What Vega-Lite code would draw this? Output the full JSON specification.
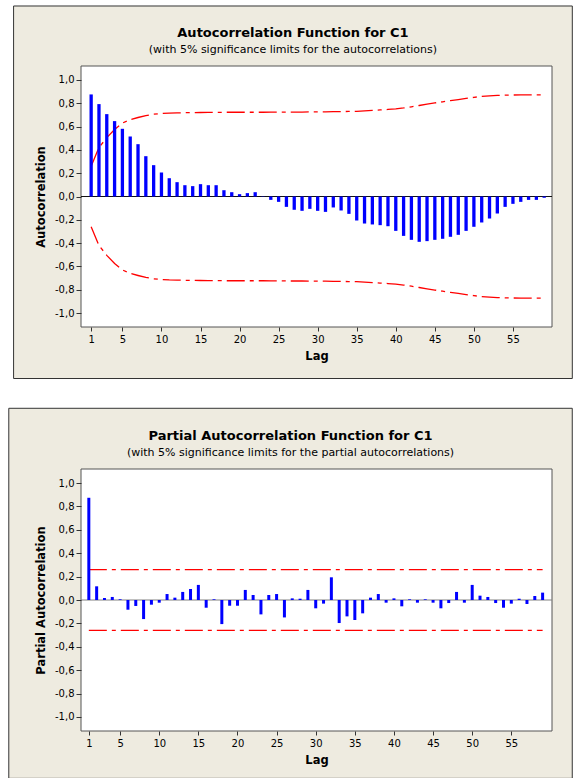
{
  "$schema": "https://vega.github.io/schema/vega-lite/v6.json",
  "background": "white",
  "padding": {"left": 8, "top": 5, "right": 0, "bottom": 0},
  "spacing": 27,
  "config": {
    "font": "DejaVu Sans",
    "view": {"stroke": null},
    "axis": {
      "labelFont": "DejaVu Sans", "labelFontSize": 10, "labelColor": "#000", "labelOverlap": false,
      "titleFont": "DejaVu Sans", "titleFontSize": 11.5, "titleFontWeight": "bold", "titleColor": "#000",
      "tickColor": "#333", "grid": false, "domain": false
    },
    "axisX": {"tickSize": 4, "labelPadding": 3, "titlePadding": 6},
    "axisY": {"tickSize": 5, "labelPadding": 2, "titlePadding": 8},
    "title": {
      "font": "DejaVu Sans", "fontSize": 13, "fontWeight": "bold", "color": "#000",
      "subtitleFont": "DejaVu Sans", "subtitleFontSize": 11, "subtitleColor": "#000",
      "anchor": "middle", "frame": "bounds", "offset": -50, "subtitlePadding": 4, "zindex": 1
    }
  },
  "datasets": {
    "acf": [
      {"lag": 1, "acf": 0.876, "upper": 0.26, "lower": -0.26},
      {"lag": 2, "acf": 0.793, "upper": 0.42, "lower": -0.42},
      {"lag": 3, "acf": 0.707, "upper": 0.505, "lower": -0.505},
      {"lag": 4, "acf": 0.647, "upper": 0.575, "lower": -0.575},
      {"lag": 5, "acf": 0.581, "upper": 0.63, "lower": -0.63},
      {"lag": 6, "acf": 0.515, "upper": 0.66, "lower": -0.66},
      {"lag": 7, "acf": 0.449, "upper": 0.678, "lower": -0.678},
      {"lag": 8, "acf": 0.346, "upper": 0.695, "lower": -0.695},
      {"lag": 9, "acf": 0.269, "upper": 0.706, "lower": -0.706},
      {"lag": 10, "acf": 0.206, "upper": 0.712, "lower": -0.712},
      {"lag": 11, "acf": 0.157, "upper": 0.716, "lower": -0.716},
      {"lag": 12, "acf": 0.123, "upper": 0.718, "lower": -0.718},
      {"lag": 13, "acf": 0.097, "upper": 0.719, "lower": -0.719},
      {"lag": 14, "acf": 0.089, "upper": 0.72, "lower": -0.72},
      {"lag": 15, "acf": 0.106, "upper": 0.721, "lower": -0.721},
      {"lag": 16, "acf": 0.097, "upper": 0.722, "lower": -0.722},
      {"lag": 17, "acf": 0.097, "upper": 0.722, "lower": -0.722},
      {"lag": 18, "acf": 0.054, "upper": 0.723, "lower": -0.723},
      {"lag": 19, "acf": 0.037, "upper": 0.723, "lower": -0.723},
      {"lag": 20, "acf": 0.02, "upper": 0.723, "lower": -0.723},
      {"lag": 21, "acf": 0.029, "upper": 0.723, "lower": -0.723},
      {"lag": 22, "acf": 0.037, "upper": 0.723, "lower": -0.723},
      {"lag": 23, "acf": 0.003, "upper": 0.723, "lower": -0.723},
      {"lag": 24, "acf": -0.029, "upper": 0.724, "lower": -0.724},
      {"lag": 25, "acf": -0.046, "upper": 0.724, "lower": -0.724},
      {"lag": 26, "acf": -0.089, "upper": 0.725, "lower": -0.725},
      {"lag": 27, "acf": -0.114, "upper": 0.725, "lower": -0.725},
      {"lag": 28, "acf": -0.123, "upper": 0.725, "lower": -0.725},
      {"lag": 29, "acf": -0.106, "upper": 0.726, "lower": -0.726},
      {"lag": 30, "acf": -0.123, "upper": 0.726, "lower": -0.726},
      {"lag": 31, "acf": -0.132, "upper": 0.727, "lower": -0.727},
      {"lag": 32, "acf": -0.094, "upper": 0.728, "lower": -0.728},
      {"lag": 33, "acf": -0.12, "upper": 0.729, "lower": -0.729},
      {"lag": 34, "acf": -0.149, "upper": 0.73, "lower": -0.73},
      {"lag": 35, "acf": -0.206, "upper": 0.731, "lower": -0.731},
      {"lag": 36, "acf": -0.232, "upper": 0.735, "lower": -0.735},
      {"lag": 37, "acf": -0.24, "upper": 0.739, "lower": -0.739},
      {"lag": 38, "acf": -0.246, "upper": 0.743, "lower": -0.743},
      {"lag": 39, "acf": -0.255, "upper": 0.747, "lower": -0.747},
      {"lag": 40, "acf": -0.295, "upper": 0.752, "lower": -0.752},
      {"lag": 41, "acf": -0.338, "upper": 0.76, "lower": -0.76},
      {"lag": 42, "acf": -0.372, "upper": 0.77, "lower": -0.77},
      {"lag": 43, "acf": -0.389, "upper": 0.781, "lower": -0.781},
      {"lag": 44, "acf": -0.383, "upper": 0.792, "lower": -0.792},
      {"lag": 45, "acf": -0.372, "upper": 0.803, "lower": -0.803},
      {"lag": 46, "acf": -0.363, "upper": 0.813, "lower": -0.813},
      {"lag": 47, "acf": -0.346, "upper": 0.823, "lower": -0.823},
      {"lag": 48, "acf": -0.329, "upper": 0.832, "lower": -0.832},
      {"lag": 49, "acf": -0.295, "upper": 0.842, "lower": -0.842},
      {"lag": 50, "acf": -0.26, "upper": 0.851, "lower": -0.851},
      {"lag": 51, "acf": -0.223, "upper": 0.859, "lower": -0.859},
      {"lag": 52, "acf": -0.189, "upper": 0.864, "lower": -0.864},
      {"lag": 53, "acf": -0.146, "upper": 0.868, "lower": -0.868},
      {"lag": 54, "acf": -0.089, "upper": 0.87, "lower": -0.87},
      {"lag": 55, "acf": -0.063, "upper": 0.871, "lower": -0.871},
      {"lag": 56, "acf": -0.046, "upper": 0.872, "lower": -0.872},
      {"lag": 57, "acf": -0.029, "upper": 0.872, "lower": -0.872},
      {"lag": 58, "acf": -0.029, "upper": 0.872, "lower": -0.872},
      {"lag": 59, "acf": -0.011, "upper": 0.872, "lower": -0.872}
    ],
    "pacf": [
      {"lag": 1, "pacf": 0.874, "upper": 0.26, "lower": -0.26},
      {"lag": 2, "pacf": 0.117, "upper": 0.26, "lower": -0.26},
      {"lag": 3, "pacf": 0.017, "upper": 0.26, "lower": -0.26},
      {"lag": 4, "pacf": 0.026, "upper": 0.26, "lower": -0.26},
      {"lag": 5, "pacf": 0.006, "upper": 0.26, "lower": -0.26},
      {"lag": 6, "pacf": -0.083, "upper": 0.26, "lower": -0.26},
      {"lag": 7, "pacf": -0.051, "upper": 0.26, "lower": -0.26},
      {"lag": 8, "pacf": -0.163, "upper": 0.26, "lower": -0.26},
      {"lag": 9, "pacf": -0.04, "upper": 0.26, "lower": -0.26},
      {"lag": 10, "pacf": -0.023, "upper": 0.26, "lower": -0.26},
      {"lag": 11, "pacf": 0.051, "upper": 0.26, "lower": -0.26},
      {"lag": 12, "pacf": 0.02, "upper": 0.26, "lower": -0.26},
      {"lag": 13, "pacf": 0.069, "upper": 0.26, "lower": -0.26},
      {"lag": 14, "pacf": 0.094, "upper": 0.26, "lower": -0.26},
      {"lag": 15, "pacf": 0.129, "upper": 0.26, "lower": -0.26},
      {"lag": 16, "pacf": -0.066, "upper": 0.26, "lower": -0.26},
      {"lag": 17, "pacf": 0.006, "upper": 0.26, "lower": -0.26},
      {"lag": 18, "pacf": -0.206, "upper": 0.26, "lower": -0.26},
      {"lag": 19, "pacf": -0.049, "upper": 0.26, "lower": -0.26},
      {"lag": 20, "pacf": -0.049, "upper": 0.26, "lower": -0.26},
      {"lag": 21, "pacf": 0.086, "upper": 0.26, "lower": -0.26},
      {"lag": 22, "pacf": 0.043, "upper": 0.26, "lower": -0.26},
      {"lag": 23, "pacf": -0.123, "upper": 0.26, "lower": -0.26},
      {"lag": 24, "pacf": 0.043, "upper": 0.26, "lower": -0.26},
      {"lag": 25, "pacf": 0.051, "upper": 0.26, "lower": -0.26},
      {"lag": 26, "pacf": -0.149, "upper": 0.26, "lower": -0.26},
      {"lag": 27, "pacf": 0.014, "upper": 0.26, "lower": -0.26},
      {"lag": 28, "pacf": 0.011, "upper": 0.26, "lower": -0.26},
      {"lag": 29, "pacf": 0.086, "upper": 0.26, "lower": -0.26},
      {"lag": 30, "pacf": -0.071, "upper": 0.26, "lower": -0.26},
      {"lag": 31, "pacf": -0.031, "upper": 0.26, "lower": -0.26},
      {"lag": 32, "pacf": 0.194, "upper": 0.26, "lower": -0.26},
      {"lag": 33, "pacf": -0.197, "upper": 0.26, "lower": -0.26},
      {"lag": 34, "pacf": -0.14, "upper": 0.26, "lower": -0.26},
      {"lag": 35, "pacf": -0.171, "upper": 0.26, "lower": -0.26},
      {"lag": 36, "pacf": -0.114, "upper": 0.26, "lower": -0.26},
      {"lag": 37, "pacf": 0.02, "upper": 0.26, "lower": -0.26},
      {"lag": 38, "pacf": 0.051, "upper": 0.26, "lower": -0.26},
      {"lag": 39, "pacf": -0.023, "upper": 0.26, "lower": -0.26},
      {"lag": 40, "pacf": 0.014, "upper": 0.26, "lower": -0.26},
      {"lag": 41, "pacf": -0.054, "upper": 0.26, "lower": -0.26},
      {"lag": 42, "pacf": 0.006, "upper": 0.26, "lower": -0.26},
      {"lag": 43, "pacf": -0.023, "upper": 0.26, "lower": -0.26},
      {"lag": 44, "pacf": 0.006, "upper": 0.26, "lower": -0.26},
      {"lag": 45, "pacf": -0.023, "upper": 0.26, "lower": -0.26},
      {"lag": 46, "pacf": -0.071, "upper": 0.26, "lower": -0.26},
      {"lag": 47, "pacf": -0.026, "upper": 0.26, "lower": -0.26},
      {"lag": 48, "pacf": 0.069, "upper": 0.26, "lower": -0.26},
      {"lag": 49, "pacf": -0.023, "upper": 0.26, "lower": -0.26},
      {"lag": 50, "pacf": 0.129, "upper": 0.26, "lower": -0.26},
      {"lag": 51, "pacf": 0.037, "upper": 0.26, "lower": -0.26},
      {"lag": 52, "pacf": 0.026, "upper": 0.26, "lower": -0.26},
      {"lag": 53, "pacf": -0.026, "upper": 0.26, "lower": -0.26},
      {"lag": 54, "pacf": -0.066, "upper": 0.26, "lower": -0.26},
      {"lag": 55, "pacf": -0.031, "upper": 0.26, "lower": -0.26},
      {"lag": 56, "pacf": 0.011, "upper": 0.26, "lower": -0.26},
      {"lag": 57, "pacf": -0.034, "upper": 0.26, "lower": -0.26},
      {"lag": 58, "pacf": 0.034, "upper": 0.26, "lower": -0.26},
      {"lag": 59, "pacf": 0.063, "upper": 0.26, "lower": -0.26}
    ]
  },
  "vconcat": [
    {
      "width": 471,
      "height": 261,
      "title": {"text": "Autocorrelation Function for C1", "subtitle": "(with 5% significance limits for the autocorrelations)"},
      "layer": [
        {
          "data": {"values": [{"panel": "frame"}]},
          "mark": {"type": "rect", "fill": "#EEEBE0", "stroke": "#333", "strokeWidth": 1},
          "encoding": {
            "x": {"datum": -8.93, "type": "quantitative", "title": "Lag"},
            "x2": {"datum": 62.6},
            "y": {"datum": 1.635, "type": "quantitative", "title": "Autocorrelation"},
            "y2": {"datum": -1.562}
          }
        },
        {
          "data": {"values": [{"panel": "plot"}]},
          "mark": {"type": "rect", "fill": "white", "stroke": "#555", "strokeWidth": 1},
          "encoding": {
            "x": {"datum": -0.3, "type": "quantitative", "title": "Lag"},
            "x2": {"datum": 60},
            "y": {"datum": 1.12, "type": "quantitative", "title": "Autocorrelation"},
            "y2": {"datum": -1.12}
          }
        },
        {
          "data": {"values": [{"panel": "zero"}]},
          "mark": {"type": "rule", "color": "#111", "strokeWidth": 1},
          "encoding": {"y": {"datum": 0, "type": "quantitative", "title": "Autocorrelation"}}
        },
        {
          "data": {"name": "acf"},
          "mark": {"type": "line", "color": "#FF0000", "strokeWidth": 1.3, "strokeDash": [18, 5, 4, 5]},
          "encoding": {
            "x": {"field": "lag", "type": "quantitative", "title": "Lag"},
            "y": {"field": "upper", "type": "quantitative", "title": "Autocorrelation"}
          }
        },
        {
          "data": {"name": "acf"},
          "mark": {"type": "line", "color": "#FF0000", "strokeWidth": 1.3, "strokeDash": [18, 5, 4, 5]},
          "encoding": {
            "x": {"field": "lag", "type": "quantitative", "title": "Lag"},
            "y": {"field": "lower", "type": "quantitative", "title": "Autocorrelation"}
          }
        },
        {
          "data": {"name": "acf"},
          "mark": {"type": "rule", "color": "#0000FF", "strokeWidth": 3.3, "strokeCap": "butt"},
          "encoding": {
            "x": {
              "field": "lag", "type": "quantitative", "title": "Lag",
              "scale": {"domain": [-0.3, 60], "nice": false, "zero": false},
              "axis": {"values": [1, 5, 10, 15, 20, 25, 30, 35, 40, 45, 50, 55], "tickCount": 30, "format": "d", "zindex": 2, "labelOverlap": false}
            },
            "y": {
              "field": "acf", "type": "quantitative", "title": "Autocorrelation",
              "scale": {"domain": [-1.12, 1.12], "nice": false, "zero": false},
              "axis": {
                "zindex": 2,
                "tickCount": 30,
                "labelOverlap": false,
                "values": [-1, -0.8, -0.6, -0.4, -0.2, 0, 0.2, 0.4, 0.6, 0.8, 1],
                "labelExpr": "replace(replace(format(datum.value, '.1f'), '.', ','), '\u2212', '-')"
              }
            },
            "y2": {"datum": 0}
          }
        }
      ]
    },
    {
      "width": 471,
      "height": 262,
      "title": {"text": "Partial Autocorrelation Function for C1", "subtitle": "(with 5% significance limits for the partial autocorrelations)"},
      "layer": [
        {
          "data": {"values": [{"panel": "frame"}]},
          "mark": {"type": "rect", "fill": "#EEEBE0", "stroke": "#333", "strokeWidth": 1},
          "encoding": {
            "x": {"datum": -9.23, "type": "quantitative", "title": "Lag"},
            "x2": {"datum": 62.79},
            "y": {"datum": 1.639, "type": "quantitative", "title": "Partial Autocorrelation"},
            "y2": {"datum": -1.525}
          }
        },
        {
          "data": {"values": [{"panel": "plot"}]},
          "mark": {"type": "rect", "fill": "white", "stroke": "#555", "strokeWidth": 1},
          "encoding": {
            "x": {"datum": 0, "type": "quantitative", "title": "Lag"},
            "x2": {"datum": 60.2},
            "y": {"datum": 1.12, "type": "quantitative", "title": "Partial Autocorrelation"},
            "y2": {"datum": -1.12}
          }
        },
        {
          "data": {"values": [{"panel": "zero"}]},
          "mark": {"type": "rule", "color": "#808080", "strokeWidth": 1},
          "encoding": {"y": {"datum": 0, "type": "quantitative", "title": "Partial Autocorrelation"}}
        },
        {
          "data": {"name": "pacf"},
          "mark": {"type": "line", "color": "#FF0000", "strokeWidth": 1.3, "strokeDash": [18, 5, 4, 5]},
          "encoding": {
            "x": {"field": "lag", "type": "quantitative", "title": "Lag"},
            "y": {"field": "upper", "type": "quantitative", "title": "Partial Autocorrelation"}
          }
        },
        {
          "data": {"name": "pacf"},
          "mark": {"type": "line", "color": "#FF0000", "strokeWidth": 1.3, "strokeDash": [18, 5, 4, 5]},
          "encoding": {
            "x": {"field": "lag", "type": "quantitative", "title": "Lag"},
            "y": {"field": "lower", "type": "quantitative", "title": "Partial Autocorrelation"}
          }
        },
        {
          "data": {"name": "pacf"},
          "mark": {"type": "rule", "color": "#0000FF", "strokeWidth": 3, "strokeCap": "butt"},
          "encoding": {
            "x": {
              "field": "lag", "type": "quantitative", "title": "Lag",
              "scale": {"domain": [0, 60.2], "nice": false, "zero": false},
              "axis": {"values": [1, 5, 10, 15, 20, 25, 30, 35, 40, 45, 50, 55], "tickCount": 30, "format": "d", "zindex": 2, "labelOverlap": false}
            },
            "y": {
              "field": "pacf", "type": "quantitative", "title": "Partial Autocorrelation",
              "scale": {"domain": [-1.12, 1.12], "nice": false, "zero": false},
              "axis": {
                "zindex": 2,
                "tickCount": 30,
                "labelOverlap": false,
                "values": [-1, -0.8, -0.6, -0.4, -0.2, 0, 0.2, 0.4, 0.6, 0.8, 1],
                "labelExpr": "replace(replace(format(datum.value, '.1f'), '.', ','), '\u2212', '-')"
              }
            },
            "y2": {"datum": 0}
          }
        }
      ]
    }
  ]
}
